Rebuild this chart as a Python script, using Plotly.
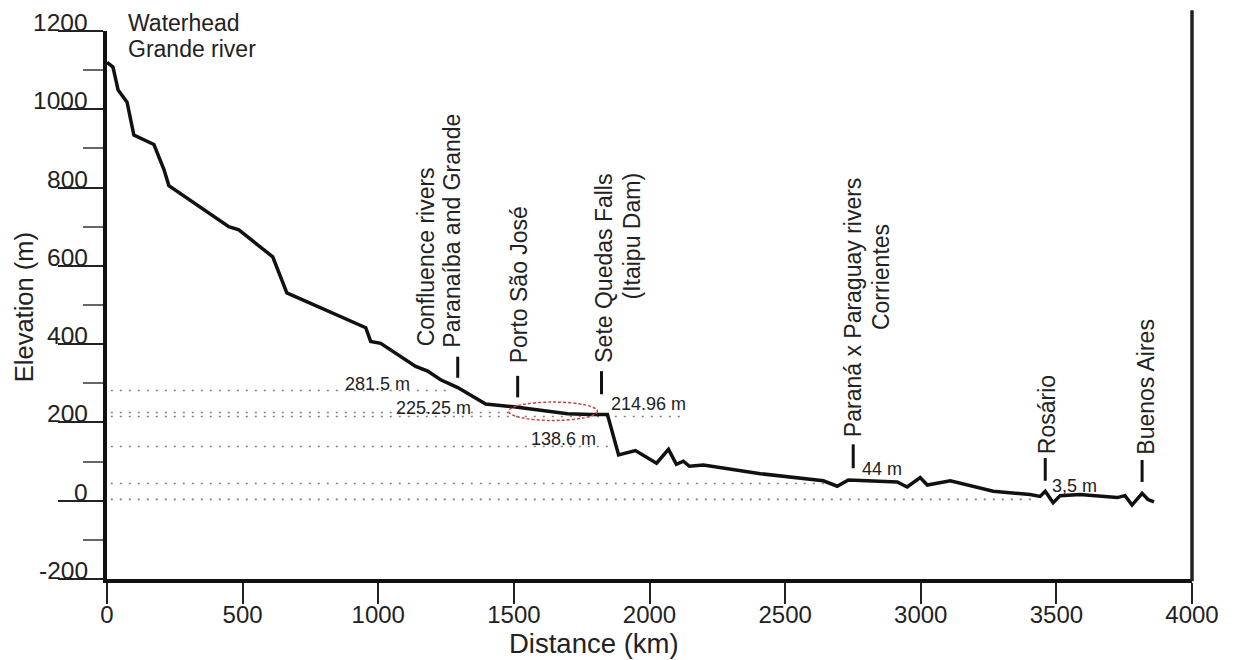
import plotly.graph_objects as go

# ---------------- data ----------------
distance_km = [0, 22, 41, 74, 99, 173, 210, 228, 449, 486, 611, 663, 954, 972,
               1009, 1138, 1182, 1230, 1293, 1396, 1499, 1698, 1783, 1845, 1886,
               1948, 2026, 2070, 2099, 2125, 2147, 2199, 2409, 2641, 2692, 2733,
               2913, 2950, 2998, 3024, 3109, 3145, 3267, 3403, 3440, 3459, 3488,
               3514, 3587, 3724, 3753, 3779, 3816, 3838, 3860]
elevation_m = [1120, 1108, 1049, 1018, 934, 910, 846, 805, 700, 692, 623, 531, 442, 407,
               402, 343, 331, 309, 289, 247, 240, 222, 220, 220, 117,
               128, 96, 131, 93, 101, 88, 91, 69, 51, 37, 53,
               48, 35, 59, 40, 51, 45, 24, 16, 11, 24, -5,
               13, 16, 8, 13, -11, 19, 3, -3]

ref_levels = [281.5, 225.25, 214.96, 138.6, 44, 3.5]
ref_labels = ["281.5 m", "225.25 m", "214.96 m", "138.6 m", "44 m", "3,5 m"]
ref_line_end_km = [1250, 1481, 2130, 1864, 2690, 3420]

place_km = [1293, 1514, 1823, 2751, 3459, 3816]
place_lines = [["Confluence rivers", "Paranaíba and Grande"],
               ["Porto São José"],
               ["Sete Quedas Falls", "(Itaipu Dam)"],
               ["Paraná x Paraguay rivers", "Corrientes"],
               ["Rosário"],
               ["Buenos Aires"]]

x_ticks = [0, 500, 1000, 1500, 2000, 2500, 3000, 3500, 4000]
y_ticks = [-200, 0, 200, 400, 600, 800, 1000, 1200]
y_minor = [-100, 100, 300, 500, 700, 900, 1100]

# ---------------- layout placement (positions, not data) ----------------
FONT = "Liberation Sans, Arial, Helvetica, sans-serif"
marker_top = [368, 319, 331, 144, 109, 104]
marker_bot = [314, 264, 272, 83, 51, 48]
# per line: (x km, bottom elevation)
place_text_pos = [[(1175, 400), (1274, 395)],
                  [(1517, 356)],
                  [(1831, 358), (1937, 519)],
                  [(2751, 168), (2851, 442)],
                  [(3466, 123)],
                  [(3827, 123)]]
ref_label_x_km = [869, 1057, 1849, 1554, 2777, 3477]
ref_label_raise_px = [7, 5, 13, 7, 14, 13]   # label centre above its dotted line

fig = go.Figure()
fig.add_trace(go.Scatter(x=distance_km, y=elevation_m, mode="lines",
                         line=dict(color="#111111", width=3.5),
                         hoverinfo="skip", showlegend=False))

shapes = []
for lvl, xe in zip(ref_levels, ref_line_end_km):
    shapes.append(dict(type="line", xref="x", yref="y", x0=14, x1=xe, y0=lvl, y1=lvl,
                       line=dict(color="#808080", width=1.6, dash="2px,7px"), layer="below"))
for xk, yt, yb in zip(place_km, marker_top, marker_bot):
    shapes.append(dict(type="line", xref="x", yref="y", x0=xk, x1=xk, y0=yb, y1=yt,
                       line=dict(color="#111111", width=3)))
# red dashed ellipse around the Porto São José – Sete Quedas reach
shapes.append(dict(type="circle", xref="x", yref="y", x0=1481, x1=1808, y0=205, y1=252,
                   line=dict(color="#d04040", width=1.5, dash="3px,2px")))
# right frame line
shapes.append(dict(type="line", xref="paper", yref="paper", x0=1, x1=1, y0=-0.004, y1=1.038,
                   line=dict(color="#222222", width=3.5)))

ann = []
# y tick labels sitting on the long tick marks
for t in y_ticks:
    ann.append(dict(text=str(t), xref="paper", yref="y", x=0, y=t, xanchor="right",
                    yanchor="middle", xshift=-17, yshift=8.5, showarrow=False,
                    font=dict(family=FONT, size=24.5, color="#222")))
# rotated place names
for lines, poss in zip(place_lines, place_text_pos):
    for txt, (xp, yp) in zip(lines, poss):
        ann.append(dict(text=txt, x=xp, y=yp, xref="x", yref="y", textangle=-90,
                        xanchor="center", yanchor="bottom", yshift=-4, showarrow=False,
                        font=dict(family=FONT, size=23, color="#222")))
# reference level labels
for lab, lvl, xp, rp in zip(ref_labels, ref_levels, ref_label_x_km, ref_label_raise_px):
    ann.append(dict(text=lab, x=xp, y=lvl, xref="x", yref="y", xanchor="left",
                    yanchor="middle", yshift=rp, showarrow=False,
                    font=dict(family=FONT, size=18, color="#222")))
# headwater label
ann.append(dict(text="Waterhead", x=70, y=1.0146, xref="x", yref="paper", xanchor="left",
                yanchor="middle", showarrow=False, font=dict(family=FONT, size=23, color="#222")))
ann.append(dict(text="Grande river", x=70, y=1154, xref="x", yref="y", xanchor="left",
                yanchor="middle", showarrow=False, font=dict(family=FONT, size=23, color="#222")))
# axis titles
ann.append(dict(text="Distance (km)", x=1797, y=-0.117, xref="x", yref="paper",
                xanchor="center", yanchor="middle", showarrow=False,
                font=dict(family=FONT, size=27.5, color="#222")))
ann.append(dict(text="Elevation (m)", x=-0.0765, y=0.496, xref="paper", yref="paper",
                textangle=-90, xanchor="center", yanchor="middle", showarrow=False,
                font=dict(family=FONT, size=25.5, color="#222")))

fig.update_layout(
    width=1234, height=660,
    margin=dict(l=107, r=42, t=31, b=81, pad=0),
    paper_bgcolor="white", plot_bgcolor="white",
    font=dict(family=FONT, color="#222"),
    showlegend=False,
    shapes=shapes, annotations=ann,
    xaxis=dict(range=[0, 4000], tickmode="array", tickvals=x_ticks,
               ticks="outside", ticklen=21, tickwidth=2, tickcolor="#222",
               ticklabelstandoff=-10,
               showline=True, linewidth=4, linecolor="#111", mirror=False,
               showgrid=False, zeroline=False, automargin=False,
               tickfont=dict(family=FONT, size=24, color="#222")),
    yaxis=dict(range=[-200, 1200], tickmode="array", tickvals=y_ticks,
               ticks="outside", ticklen=45, tickwidth=2, tickcolor="#222",
               showticklabels=False,
               minor=dict(ticks="outside", ticklen=20, tickwidth=1.5, tickcolor="#666",
                          tickmode="array", tickvals=y_minor),
               showline=True, linewidth=4, linecolor="#111", mirror=False,
               showgrid=False, zeroline=False, automargin=False),
)

fig.write_html("out.html", config={"displayModeBar": False},
               post_script="document.body.style.margin='0';document.body.style.overflow='hidden';")
